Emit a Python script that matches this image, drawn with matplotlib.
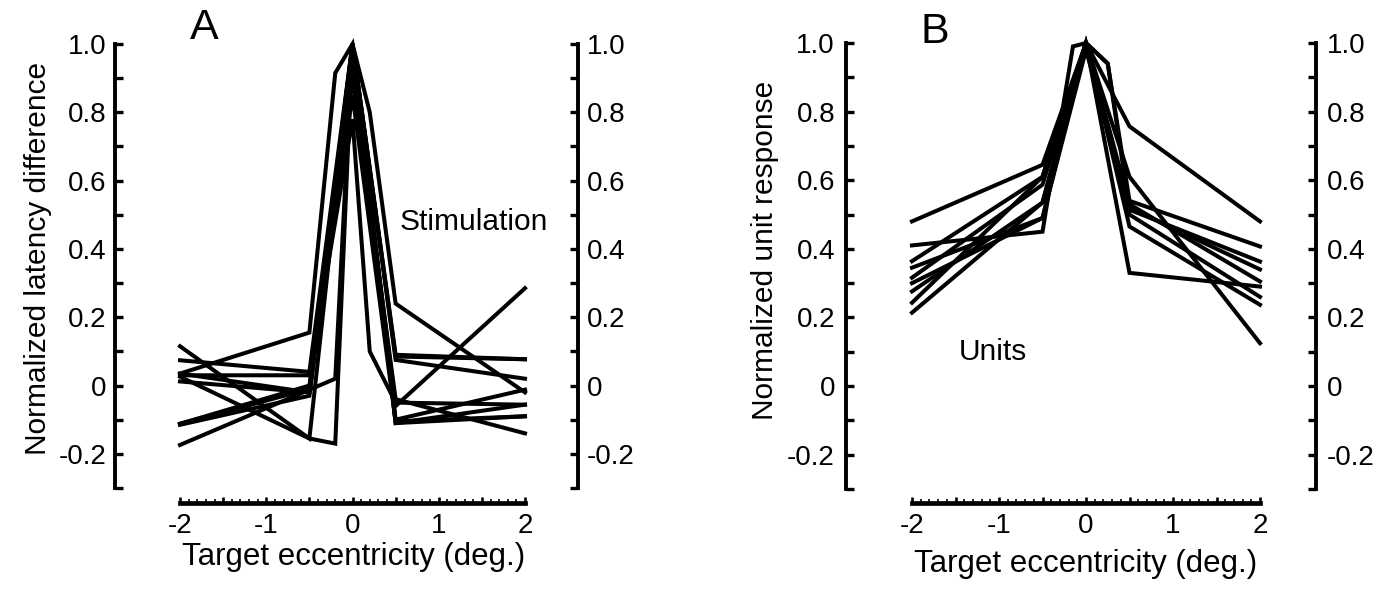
import matplotlib
matplotlib.use("Agg")
import matplotlib.pyplot as plt
from matplotlib.ticker import MultipleLocator, FuncFormatter

plt.rcParams['font.family'] = ['Liberation Sans', 'DejaVu Sans']

W, H = 1382, 589

# Panel A: stimulation, normalized latency difference
ecc_a = [-2, -0.5, -0.2, 0, 0.2, 0.5, 2]
latency_lines = [
    [0.115, -0.155, None, 1.0, 0.8, 0.24, -0.02],
    [-0.174, None, 0.02, 1.0, None, 0.085, 0.077],
    [-0.112, -0.01, None, 1.0, None, -0.11, -0.09],
    [-0.115, -0.03, None, 0.95, None, -0.06, 0.285],
    [0.035, 0.155, 0.915, 1.0, None, 0.09, 0.077],
    [0.074, 0.04, None, 1.0, None, 0.075, 0.02],
    [0.035, -0.02, None, 0.9, None, -0.04, -0.14],
    [0.012, -0.02, None, 1.0, None, -0.11, -0.056],
    [0.026, -0.155, -0.17, 1.0, None, -0.1, -0.012],
    [0.03, 0.03, None, 0.78, 0.1, -0.05, -0.056],
    [-0.112, 0.0, None, 0.85, None, -0.105, -0.09],
]

# Panel B: units, normalized unit response
ecc_b = [-2, -0.5, -0.15, 0, 0.25, 0.5, 2]
unit_lines = [
    [0.48, 0.645, None, 1.0, None, 0.757, 0.48],
    [0.41, 0.45, 0.99, 1.0, 0.94, 0.54, 0.407],
    [0.364, 0.61, None, 1.0, None, 0.61, 0.125],
    [0.345, 0.49, None, 1.0, None, 0.33, 0.29],
    [0.316, 0.587, None, 1.0, 0.94, 0.514, 0.363],
    [0.276, 0.535, None, 1.0, None, 0.465, 0.237],
    [0.243, 0.61, None, 1.0, None, 0.53, 0.305],
    [0.214, 0.535, None, 1.0, None, 0.50, 0.26],
    [0.30, 0.49, None, 0.98, None, 0.52, 0.34],
]

x_label = "Target eccentricity (deg.)"


def px(v):
    # pixels -> points
    return v * 0.72


def yfmt(v, pos):
    if abs(v) < 1e-9:
        return "0"
    return f"{v:.1f}"


def xfmt(v, pos):
    if abs(v - round(v)) < 1e-9:
        return f"{int(round(v))}"
    return ""


def make_panel(rect, ecc, lines, left_out, right_out, bottom_out, ypad):
    l, t, r, b = rect
    ax = fig.add_axes([l / W, 1 - b / H, (r - l) / W, (b - t) / H])
    for ys in lines:
        xs = [x for x, y in zip(ecc, ys) if y is not None]
        vs = [y for y in ys if y is not None]
        ax.plot(xs, vs, color='black', lw=2.9, solid_joinstyle='miter', clip_on=False)
    ax.set_xlim(-2, 2)
    ax.set_ylim(-0.3, 1.0)

    ax.spines['top'].set_visible(False)
    ax.spines['left'].set_position(('outward', px(left_out)))
    ax.spines['right'].set_position(('outward', px(right_out)))
    ax.spines['bottom'].set_position(('outward', px(bottom_out)))
    for s in ['left', 'right']:
        ax.spines[s].set_linewidth(2.8)
    ax.spines['bottom'].set_linewidth(3.4)

    ax.yaxis.set_major_locator(MultipleLocator(0.2))
    ax.yaxis.set_minor_locator(MultipleLocator(0.1))
    ax.yaxis.set_major_formatter(FuncFormatter(yfmt))
    ax.tick_params(axis='y', which='both', direction='in', length=5.5, width=2.4,
                   left=True, right=True, labelleft=True, labelright=True,
                   labelsize=20, pad=px(ypad))

    ax.xaxis.set_major_locator(MultipleLocator(0.5))
    ax.xaxis.set_minor_locator(MultipleLocator(0.1))
    ax.xaxis.set_major_formatter(FuncFormatter(xfmt))
    ax.tick_params(axis='x', which='major', direction='in', length=4.5, width=1.9,
                   labelsize=20, pad=px(10))
    ax.tick_params(axis='x', which='minor', direction='in', length=3.0, width=1.2)
    ax.patch.set_visible(False)
    return ax


fig = plt.figure(figsize=(W / 100, H / 100), dpi=100)

ax_a = make_panel((180, 44, 525, 488), ecc_a, latency_lines, 65, 53, 15, 9)
ax_b = make_panel((912, 43, 1260, 489), ecc_b, unit_lines, 66, 56, 14, 11)


def ftext(x, y, s, **kw):
    fig.text(x / W, 1 - y / H, s, **kw)


ftext(190, 39, "A", fontsize=31, ha='left', va='baseline')
ftext(921, 43, "B", fontsize=31, ha='left', va='baseline')
ftext(38, 258, "Normalized latency difference", fontsize=21.5, rotation=90,
      ha='center', va='center')
ftext(765, 250, "Normalized unit response", fontsize=21.5, rotation=90,
      ha='center', va='center')
ftext(354, 565, x_label, fontsize=22.5, ha='center', va='baseline')
ftext(1086, 572, x_label, fontsize=22.5, ha='center', va='baseline')
ftext(400, 230, "Stimulation", fontsize=21.5, ha='left', va='baseline')
ftext(959, 360, "Units", fontsize=21.5, ha='left', va='baseline')

fig.savefig("out.png", dpi=100)
